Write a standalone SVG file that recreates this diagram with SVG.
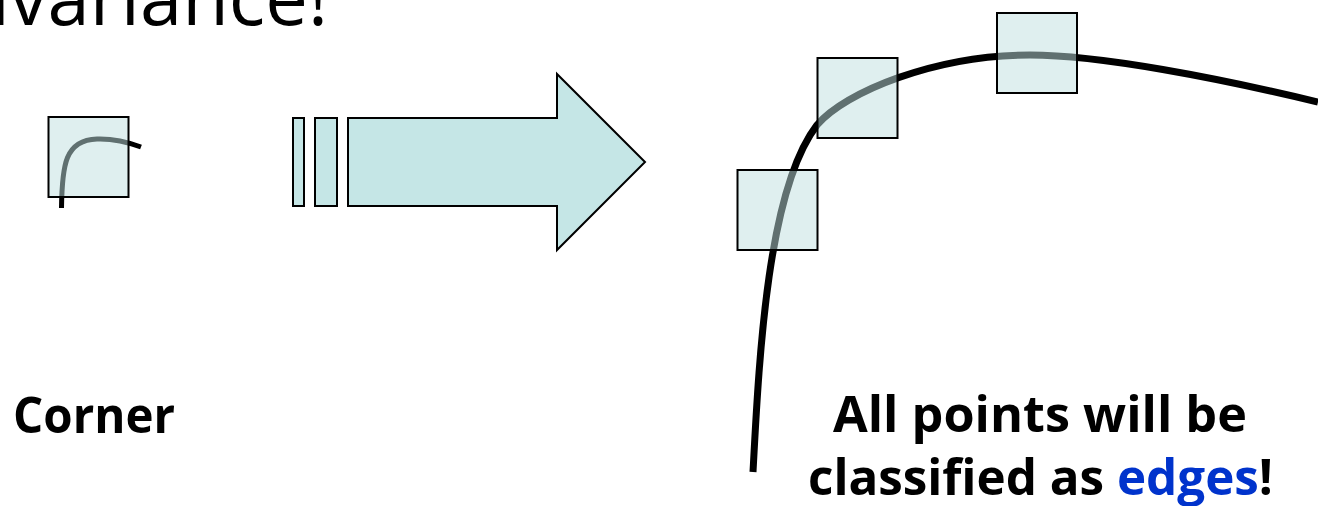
<svg xmlns="http://www.w3.org/2000/svg" width="1318" height="506" viewBox="0 0 1318 506">
<style>
.win{fill:#c0e0e0;fill-opacity:0.5;stroke:#000;stroke-width:2}
.arr{fill:#c5e6e6;stroke:#000;stroke-width:2;stroke-linejoin:miter}
.curve{fill:none;stroke:#000;stroke-linecap:butt}
.lbl{font-family:"Open Sans","DejaVu Sans",sans-serif;font-weight:700;fill:#000}
.title{font-family:"Open Sans","DejaVu Sans",sans-serif;font-weight:400;fill:#000}
</style>
<rect width="1318" height="506" fill="#fff"/>
<text class="title" x="328" y="25" font-size="76" text-anchor="end">invariance!</text>

<g id="corner">
<path class="curve" stroke-width="5" d="M61.5 208 C62 165 65 140 97 139 C112 138.5 125 141 141 147"/>
<rect class="win" x="48.5" y="117" width="80" height="80"/>
<text class="lbl" x="13" y="433" font-size="50" textLength="162" lengthAdjust="spacingAndGlyphs">Corner</text>
</g>

<g id="arrow">
<rect class="arr" x="293" y="118" width="11" height="88"/>
<rect class="arr" x="315" y="118" width="22" height="88"/>
<path class="arr" d="M348 118 L557 118 L557 74 L645 162 L557 250 L557 206 L348 206 Z"/>
</g>

<g id="edge">
<path class="curve" stroke-width="7" d="M753 472 C759 360 767 190 817 125 C845 92 935 55 1030 55 C1100 55 1218 78 1318 102"/>
<rect class="win" x="737.5" y="170" width="80" height="80"/>
<rect class="win" x="817.5" y="58" width="80" height="80"/>
<rect class="win" x="997" y="13" width="80" height="80"/>
</g>

<g id="caption">
<text class="lbl" x="1040" y="432" font-size="50" text-anchor="middle" textLength="414" lengthAdjust="spacingAndGlyphs">All points will be</text>
<text class="lbl" x="1040.5" y="495" font-size="50" text-anchor="middle" textLength="465" lengthAdjust="spacingAndGlyphs">classified as <tspan fill="#0033cc">edges</tspan>!</text>
</g>
</svg>
